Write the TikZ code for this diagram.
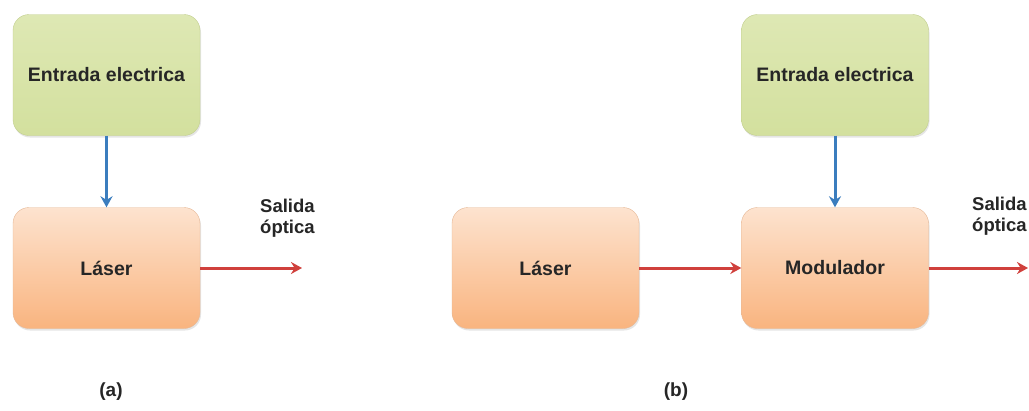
\documentclass[tikz,border=0pt]{standalone}
\usepackage{fontspec}
\setmainfont{Liberation Sans}
\usepackage{tikz}
\usetikzlibrary{arrows.meta}
\usetikzlibrary{shadows}

\definecolor{greentop}{HTML}{DEE8B4}
\definecolor{greenbot}{HTML}{D3E09E}
\definecolor{greenline}{HTML}{C2CF8E}
\definecolor{orangetop}{HTML}{FDE3CF}
\definecolor{orangebot}{HTML}{F9B47F}
\definecolor{orangeline}{HTML}{E6B896}
\definecolor{arrowblue}{HTML}{3B7DBE}
\definecolor{arrowred}{HTML}{D0403C}

\tikzset{
    blockbox/.style={rounded corners=16pt, minimum width=187pt, minimum height=121pt,
        inner sep=0pt, font=\fontsize{19.5}{22}\selectfont\bfseries, text=black!85,
        drop shadow={opacity=0.2, shadow xshift=1pt, shadow yshift=-2pt}},
    inputbox/.style={blockbox, draw=greenline, top color=greentop, bottom color=greenbot},
    sourcebox/.style={blockbox, draw=orangeline, top color=orangetop, bottom color=orangebot},
    elecarrow/.style={draw=arrowblue, line width=3pt, -{Stealth[length=11pt,width=12pt]}},
    optarrow/.style={draw=arrowred, line width=3pt, -{Stealth[length=11pt,width=12pt]}},
    outlabel/.style={anchor=west, align=left, inner sep=0pt,
        font=\fontsize{18.5}{21}\selectfont\bfseries, text=black!85},
    caption/.style={font=\fontsize{19}{22}\selectfont\bfseries, text=black!85}
}

\begin{document}
\begin{tikzpicture}[x=1pt, y=-1pt]
    \useasboundingbox[fill=white] (0, 0) rectangle (1029, 410);

    % (a) direct modulation
    \node[inputbox] (entA) at (106.5, 75) {Entrada electrica};
    \node[sourcebox] (laserA) at (106.5, 268) {Láser};
    \coordinate (outA) at (302, 268);
    \draw[elecarrow] (entA.south) -- (laserA.north);
    \draw[optarrow] (laserA.east) -- (outA);
    \node[outlabel] (salidaA) at (260, 218) {Salida\\óptica};
    \node[caption] (capA) at (111, 392) {(a)};

    % (b) external modulation
    \node[sourcebox] (laserB) at (545.5, 268) {Láser};
    \node[sourcebox] (modB) at (835, 268) {Modulador};
    \node[inputbox] (entB) at (835, 75) {Entrada electrica};
    \coordinate (outB) at (1028, 268);
    \draw[optarrow] (laserB.east) -- (modB.west);
    \draw[elecarrow] (entB.south) -- (modB.north);
    \draw[optarrow] (modB.east) -- (outB);
    \node[outlabel] (salidaB) at (972, 216) {Salida\\óptica};
    \node[caption] (capB) at (676, 392) {(b)};
\end{tikzpicture}
\end{document}
